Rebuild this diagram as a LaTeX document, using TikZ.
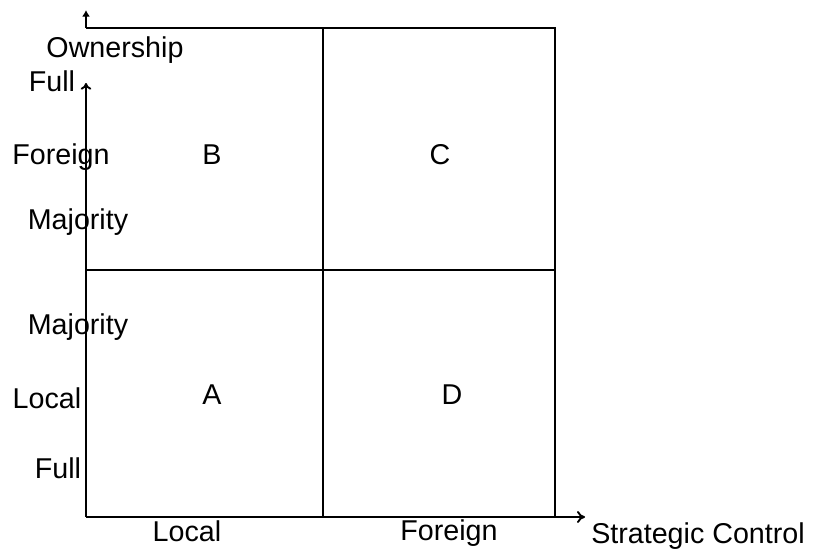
\documentclass[tikz,border=0pt]{standalone}
\usepackage{fontspec}
\setmainfont{Liberation Sans}
\usetikzlibrary{arrows.meta}
\begin{document}
\begin{tikzpicture}[x=0.75pt,y=-0.75pt,
  lbl/.style={font=\fontsize{21.5}{25}\selectfont, inner sep=0pt},
  axisline/.style={line width=1.4pt},
  gridline/.style={line width=1.1pt}]
\useasboundingbox (0,0) rectangle (817,550);
% coordinates
\coordinate (o) at (86,517);
\coordinate (xend) at (585,517);
\coordinate (yend) at (86,83);
\coordinate (tl) at (86,28);
\coordinate (tlup) at (86,10);
\coordinate (tr) at (555,28);
\coordinate (br) at (555,517);
\coordinate (mt) at (323,28);
\coordinate (mb) at (323,517);
\coordinate (ml) at (86,270);
\coordinate (mr) at (555,270);
% lines
\draw[axisline,-{To[length=6pt,width=9pt]}] (o) -- (xend);
\draw[axisline,-{To[length=5pt,width=8pt]}] (o) -- (yend);
\draw[axisline,-{Latex[length=5pt,width=6pt]}] (tl) -- (tlup);
\draw[gridline] (tl) -- (tr) -- (br);
\draw[gridline] (mt) -- (mb);
\draw[gridline] (ml) -- (mr);
% labels
\node[lbl] (own) at (115,50) {Ownership};
\node[lbl] (fullt) at (52,81) {Full};
\node[lbl] (foreignl) at (61,157) {Foreign};
\node[lbl] (majt) at (78,222) {Majority};
\node[lbl] (majb) at (78,327) {Majority};
\node[lbl] (locall) at (47,398) {Local};
\node[lbl] (fullb) at (58,468) {Full};
\node[lbl] (B) at (212,155) {B};
\node[lbl] (C) at (440,155) {C};
\node[lbl] (A) at (212,395) {A};
\node[lbl] (D) at (452,395) {D};
\node[lbl] (localb) at (187,531) {Local};
\node[lbl] (foreignb) at (449,533) {Foreign};
\node[lbl] (sc) at (698,536) {Strategic Control};
\end{tikzpicture}
\end{document}
